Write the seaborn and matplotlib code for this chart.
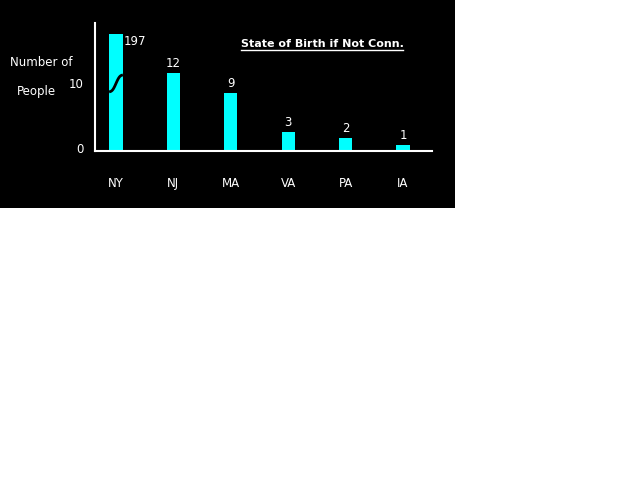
import numpy as np
import pandas as pd
import seaborn as sns
import matplotlib.pyplot as plt
import matplotlib.transforms as mtransforms
from matplotlib.patches import Rectangle
from matplotlib.lines import Line2D

states = ['NY', 'NJ', 'MA', 'VA', 'PA', 'IA']
people = [197, 12, 9, 3, 2, 1]
y_ticks = [0, 10]
title = 'State of Birth if Not Conn.'
break_at = 18  # NY bar is drawn broken at this height

df = pd.DataFrame({'state': states, 'people': people})
df['shown'] = np.minimum(df['people'], break_at)

fig = plt.figure(figsize=(6.4, 4.8), dpi=100)
fig.patch.set_facecolor('white')
# black panel behind the chart
fig.patches.append(Rectangle((0, 1 - 208 / 480), 455 / 640, 208 / 480,
                             transform=fig.transFigure, facecolor='black',
                             edgecolor='none', zorder=-5))

ax = fig.add_axes([95 / 640, 1 - 151 / 480, 337 / 640, 128 / 480])
ax.set_zorder(2)
ax.set_facecolor('black')
sns.barplot(data=df, x='state', y='shown', color='#00FFFF', saturation=1,
            width=0.23, ax=ax)

ax.set_xlim(-0.366, 5.505)
ax.set_ylim(0, 19.7)
ax.set_yticks(y_ticks)
ax.set_xlabel('')
ax.set_ylabel('')
for s in ['top', 'right']:
    ax.spines[s].set_visible(False)
for s in ['left', 'bottom']:
    ax.spines[s].set_color('white')
    ax.spines[s].set_linewidth(1.5)
ax.tick_params(axis='x', length=0, pad=19, colors='white', labelsize=8.5)
ax.tick_params(axis='y', length=0, pad=8, colors='white', labelsize=8.5)
# nudge y tick labels up a little
nudge = mtransforms.ScaledTranslation(0, 2.5 / 72, fig.dpi_scale_trans)
for lab in ax.get_yticklabels():
    lab.set_transform(lab.get_transform() + nudge)

# value labels
for i, (v, h) in enumerate(zip(df['people'], df['shown'])):
    if v > break_at:
        ax.text(i + 0.13, h - 1.1, str(v), color='white', fontsize=8.5,
                ha='left', va='center')
    else:
        ax.text(i, h + 0.4, str(v), color='white', fontsize=8.5,
                ha='center', va='bottom')

# break mark on the NY bar
t = np.linspace(-1, 1, 30)
ax.plot(t * 0.12, 10.4 + 1.3 * t + 0.35 * np.sin(np.pi * t), color='black',
        linewidth=2, solid_capstyle='butt')

fig.text(10 / 640, 1 - 62 / 480, 'Number of', color='white',
         fontsize=8.5, ha='left', va='center')
fig.text(17 / 640, 1 - 92 / 480, 'People', color='white',
         fontsize=8.5, ha='left', va='center')

t_obj = fig.text(322 / 640, 1 - 44 / 480, title, color='white', fontsize=8,
                 fontweight='bold', ha='center', va='center')
fig.canvas.draw()
bb = t_obj.get_window_extent().transformed(fig.transFigure.inverted())
fig.lines.append(Line2D([bb.x0, bb.x1], [1 - 50 / 480, 1 - 50 / 480],
                        transform=fig.transFigure, color='white', linewidth=1))

fig.savefig('out.png', dpi=100, facecolor='white')
